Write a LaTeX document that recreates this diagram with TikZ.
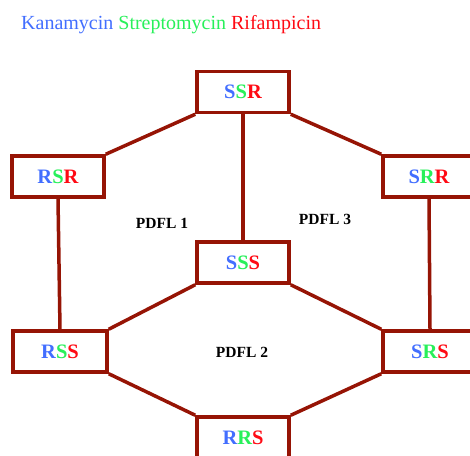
\documentclass[tikz,border=0pt]{standalone}
\usepackage{fontspec}
\setmainfont{Liberation Serif}
\newfontfamily\tnr{Liberation Serif}
\definecolor{kblue}{RGB}{66,110,255}
\definecolor{sgreen}{RGB}{40,240,90}
\definecolor{rred}{RGB}{255,10,20}
\definecolor{edge}{RGB}{150,20,5}
\newcommand{\Kc}{\textcolor{kblue}}
\newcommand{\Sc}{\textcolor{sgreen}}
\newcommand{\Rc}{\textcolor{rred}}
\begin{document}
\begin{tikzpicture}[x=1pt,y=-1pt,
  statebox/.style={draw=edge,line width=3.5pt,fill=white,rectangle,minimum width=92pt,minimum height=41pt,inner sep=0pt,font=\tnr\fontsize{20.5}{20.5}\selectfont\bfseries},
  link/.style={draw=edge,line width=3.5pt},
  region/.style={font=\tnr\fontsize{15.5}{15.5}\selectfont\bfseries}]
\useasboundingbox (0,0) rectangle (470,455);
\clip (0,0) rectangle (470,455);
\node[anchor=base west,inner sep=0pt,font=\tnr\fontsize{20}{20}\selectfont] (title) at (21,29) {\Kc{Kanamycin} \Sc{Streptomycin} \Rc{Rifampicin}};
\node[statebox] (ssr) at (243,92) {\Kc{S}\Sc{S}\Rc{R}};
\node[statebox] (rsr) at (58,176.5) {\Kc{R}\Sc{S}\Rc{R}};
\node[statebox] (srr) at (429,176.5) {\Kc{S}\Sc{R}\Rc{R}};
\node[statebox] (sss) at (243,262.5) {\Kc{S}\Sc{S}\Rc{S}};
\node[statebox,minimum width=94pt] (rss) at (60,351.5) {\Kc{R}\Sc{S}\Rc{S}};
\node[statebox,minimum width=94pt] (srs) at (430,351.5) {\Kc{S}\Sc{R}\Rc{S}};
\node[statebox] (rrs) at (243,437.5) {\Kc{R}\Sc{R}\Rc{S}};
\node[region] (p1) at (162,223) {PDFL 1};
\node[region] (p3) at (325,219) {PDFL 3};
\node[region] (p2) at (242,352) {PDFL 2};
\draw[link] (ssr.south west) -- (rsr.north east);
\draw[link] (ssr.south east) -- (srr.north west);
\draw[link] (ssr.south) -- (sss.north);
\draw[link] (rsr.south) -- (rss.north);
\draw[link] (srr.south) -- (srs.north);
\draw[link] (sss.south west) -- (rss.north east);
\draw[link] (sss.south east) -- (srs.north west);
\draw[link] (rss.south east) -- (rrs.north west);
\draw[link] (srs.south west) -- (rrs.north east);
\end{tikzpicture}
\end{document}
